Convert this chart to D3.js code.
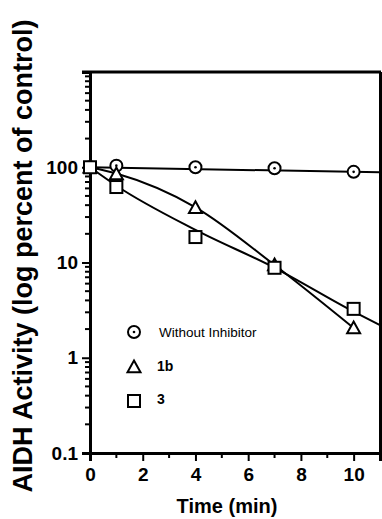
<!DOCTYPE html>
<html><head><meta charset="utf-8">
<script src="https://cdn.jsdelivr.net/npm/d3@7"></script>
<style>
html,body{margin:0;padding:0;background:#fff;}
svg{display:block;font-family:"Liberation Sans",Arial,Helvetica,sans-serif;}
</style></head>
<body>
<svg id="chart" width="382" height="519"></svg>
<script>
// ---- data ----
const times = [0, 1, 4, 7, 10];
const withoutInhibitor = [100, 104, 100, 97.6, 89.5];
const compound1b = [100, 85, 37.5, 9.4, 2.05];
const compound3 = [100, 62, 18.5, 8.8, 3.26];

const fitWithoutTimes = [0, 11];
const fitWithout = [100, 88.5];
const fit1bTimes = [0, 1, 4, 7, 10];
const fit1b = [100, 86, 38, 9.4, 2.05];
const fit3Times = [0, 1, 4, 7, 10, 11];
const fit3 = [100, 64, 22, 8.8, 3.05, 2.2];

const xTicks = [0, 2, 4, 6, 8, 10];
const xMinorTicks = [1, 3, 5, 7, 9];
const yTicks = [0.1, 1, 10, 100];
const yTickLabels = ["0.1", "1", "10", "100"];
const legendLabels = ["Without Inhibitor", "1b", "3"];

// ---- layout ----
const svg = d3.select("#chart");
const x = d3.scaleLinear().domain([0, 11]).range([90, 380]);
const y = d3.scaleLog().domain([0.1, 1000]).range([453, 72]);

// minor y ticks
const yMinor = [];
for (let d = 0.1; d < 1000; d *= 10) for (let k = 2; k <= 9; k++) yMinor.push(+(d * k).toPrecision(3));

// frame (top and right)
svg.append("line").attr("x1", 82).attr("x2", 381).attr("y1", y(1000)).attr("y2", y(1000))
  .attr("stroke", "#000").attr("stroke-width", 3);
svg.append("line").attr("x1", 380.5).attr("x2", 380.5).attr("y1", 72).attr("y2", 453)
  .attr("stroke", "#000").attr("stroke-width", 3);

// Y axis
const yAxis = d3.axisLeft(y).tickValues(yTicks).tickFormat((d, i) => yTickLabels[i]).tickSize(8).tickPadding(4);
const gy = svg.append("g").attr("transform", "translate(90,0)").call(yAxis);
gy.select(".domain").attr("stroke-width", 3);
gy.selectAll(".tick line").attr("stroke-width", 2);
gy.selectAll(".tick text").attr("font-size", 19).attr("font-weight", "bold").attr("fill", "#000");
gy.selectAll(".minor").data(yMinor).enter().append("line").attr("class", "minor")
  .attr("x1", -5).attr("x2", 0).attr("y1", d => y(d)).attr("y2", d => y(d))
  .attr("stroke", "#000").attr("stroke-width", 2);

// X axis
const xAxis = d3.axisBottom(x).tickValues(xTicks).tickSize(8).tickPadding(7);
const gx = svg.append("g").attr("transform", "translate(0,453)").call(xAxis);
gx.select(".domain").attr("stroke-width", 3);
gx.selectAll(".tick line").attr("stroke-width", 2);
gx.selectAll(".tick text").attr("font-size", 19).attr("font-weight", "bold").attr("fill", "#000");
gx.selectAll(".minor").data(xMinorTicks).enter().append("line").attr("class", "minor")
  .attr("x1", d => x(d)).attr("x2", d => x(d)).attr("y1", 0).attr("y2", 5)
  .attr("stroke", "#000").attr("stroke-width", 2);

// axis titles
svg.append("text").attr("x", 227).attr("y", 513).attr("text-anchor", "middle")
  .attr("font-size", 20).attr("font-weight", "bold").text("Time (min)");
svg.append("text").attr("transform", "translate(32,256) rotate(-90)").attr("text-anchor", "middle")
  .attr("font-size", 27).attr("font-weight", "bold").text("AIDH Activity (log percent of control)");

// fit lines
const line = d3.line().x(d => x(d[0])).y(d => y(d[1]));
const zip = (a, b) => a.map((t, i) => [t, b[i]]);
svg.append("path").datum(zip(fitWithoutTimes, fitWithout)).attr("d", line)
  .attr("fill", "none").attr("stroke", "#000").attr("stroke-width", 2);
svg.append("path").datum(zip(fit1bTimes, fit1b)).attr("d", line.curve(d3.curveMonotoneX))
  .attr("fill", "none").attr("stroke", "#000").attr("stroke-width", 2);
svg.append("path").datum(zip(fit3Times, fit3)).attr("d", line.curve(d3.curveMonotoneX))
  .attr("fill", "none").attr("stroke", "#000").attr("stroke-width", 2);

// markers
function circleMarker(g, cx, cy) {
  g.append("circle").attr("cx", cx).attr("cy", cy).attr("r", 6)
    .attr("fill", "#fff").attr("stroke", "#000").attr("stroke-width", 2);
  g.append("circle").attr("cx", cx).attr("cy", cy).attr("r", 1.3).attr("fill", "#000");
}
function triMarker(g, cx, cy) {
  const s = 6.5;
  g.append("path").attr("d", `M${cx},${cy - s} L${cx + s},${cy + s * 0.8} L${cx - s},${cy + s * 0.8}Z`)
    .attr("fill", "#fff").attr("stroke", "#000").attr("stroke-width", 2).attr("stroke-linejoin", "miter");
}
function sqMarker(g, cx, cy) {
  const s = 6;
  g.append("rect").attr("x", cx - s).attr("y", cy - s).attr("width", 2 * s).attr("height", 2 * s)
    .attr("fill", "#fff").attr("stroke", "#000").attr("stroke-width", 2);
}
const gm = svg.append("g");
times.forEach((t, i) => circleMarker(gm, x(t), y(withoutInhibitor[i])));
times.forEach((t, i) => triMarker(gm, x(t), y(compound1b[i])));
times.forEach((t, i) => sqMarker(gm, x(t), y(compound3[i])));

// legend
const lg = svg.append("g");
const legY = [332, 367, 401];
circleMarker(lg, 134, legY[0]);
triMarker(lg, 134, legY[1]);
sqMarker(lg, 134, legY[2]);
lg.append("text").attr("x", 159).attr("y", legY[0] + 5).attr("font-size", 13.5).text(legendLabels[0]);
lg.append("text").attr("x", 157).attr("y", legY[1] + 4).attr("font-size", 14).attr("font-weight", "bold").text(legendLabels[1]);
lg.append("text").attr("x", 157).attr("y", legY[2] + 3).attr("font-size", 14).attr("font-weight", "bold").text(legendLabels[2]);
</script>
</body></html>
